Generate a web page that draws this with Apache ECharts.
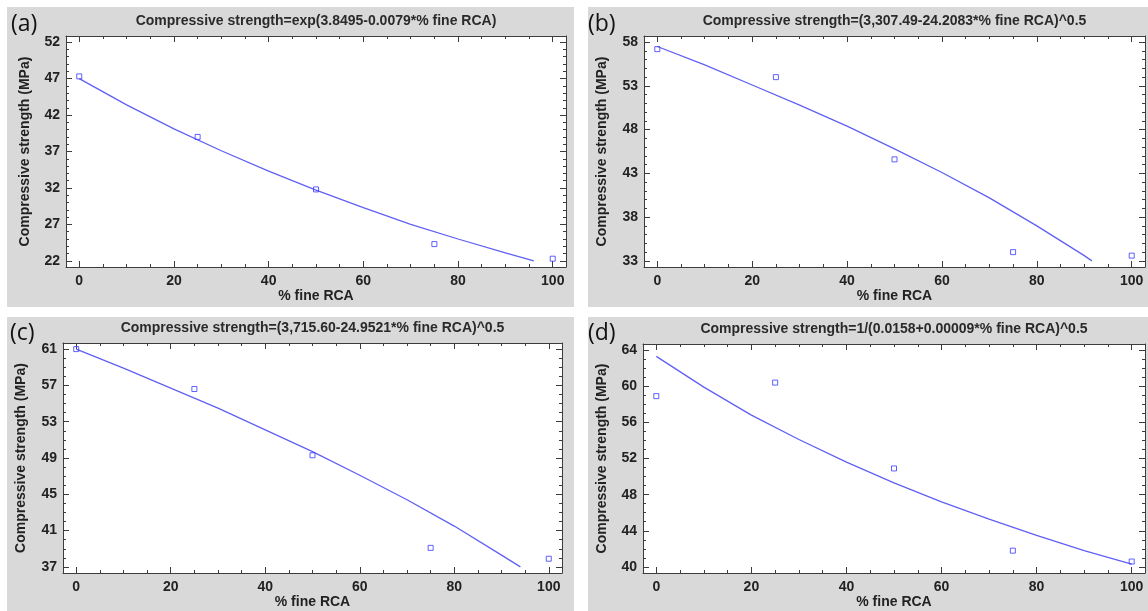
<!DOCTYPE html>
<html>
<head>
<meta charset="utf-8">
<title>Compressive strength vs % fine RCA</title>
<script src="https://cdn.jsdelivr.net/npm/echarts@6/dist/echarts.min.js"></script>
<style>
  html, body { margin: 0; padding: 0; background: #fff; }
  #main { width: 1148px; height: 611px; }
</style>
</head>
<body>
<div id="main"></div>
<script>
// tick labels
var xTicks = [0, 20, 40, 60, 80, 100];
var yTicksA = [22, 27, 32, 37, 42, 47, 52];
var yTicksB = [33, 38, 43, 48, 53, 58];
var yTicksC = [37, 41, 45, 49, 53, 57, 61];
var yTicksD = [40, 44, 48, 52, 56, 60, 64];

// measured points (% fine RCA -> MPa)
var pointX = [0, 25, 50, 75, 100];
var pointA = [47.3, 39.0, 31.8, 24.3, 22.3];
var pointB = [57.2, 54.0, 44.6, 34.0, 33.6];
var pointC = [61.0, 56.6, 49.3, 39.1, 37.9];
var pointD = [58.9, 60.4, 50.9, 41.8, 40.6];

// fitted curves
var fitXA = [0, 10, 20, 30, 40, 50, 60, 70, 80, 90, 96];
var fitYA = [47.0, 43.4, 40.1, 37.1, 34.3, 31.7, 29.3, 27.0, 25.0, 23.1, 22.0];
var fitXB = [0, 10, 20, 30, 40, 50, 60, 70, 80, 90, 91.6];
var fitYB = [57.5, 55.4, 53.1, 50.8, 48.4, 45.8, 43.1, 40.2, 37.0, 33.6, 33.0];
var fitXC = [0, 10, 20, 30, 40, 50, 60, 70, 80, 90, 94];
var fitYC = [61.0, 58.9, 56.7, 54.5, 52.1, 49.7, 47.1, 44.4, 41.5, 38.3, 37.0];
var fitXD = [0, 10, 20, 30, 40, 50, 60, 70, 80, 90, 100];
var fitYD = [63.3, 59.9, 56.8, 54.1, 51.6, 49.3, 47.2, 45.3, 43.5, 41.8, 40.3];

var titles = [
  'Compressive strength=exp(3.8495-0.0079*% fine RCA)',
  'Compressive strength=(3,307.49-24.2083*% fine RCA)^0.5',
  'Compressive strength=(3,715.60-24.9521*% fine RCA)^0.5',
  'Compressive strength=1/(0.0158+0.00009*% fine RCA)^0.5'
];
var tags = ['(a)', '(b)', '(c)', '(d)'];
var xName = '% fine RCA';
var yName = 'Compressive strength (MPa)';

var FONT = '"Liberation Sans", Arial, sans-serif';
var FRAME = '#3c3c3c';
var PANEL_BG = '#d9d9d9';
var PAD = 0.028;

// layout of the 4 panels
var panels = [
  { yTicks: yTicksA, pts: pointA, fitX: fitXA, fitY: fitYA,
    bg: [7, 7, 567, 300], grid: { left: 66, top: 36, width: 500, height: 231 }, tag: [11, 24], titleTop: 14, yGap: 34, xGap: 21 },
  { yTicks: yTicksB, pts: pointB, fitX: fitXB, fitY: fitYB,
    bg: [588, 7, 560, 300], grid: { left: 644, top: 36, width: 501, height: 231 }, tag: [588, 24], titleTop: 14, yGap: 35, xGap: 21 },
  { yTicks: yTicksC, pts: pointC, fitX: fitXC, fitY: fitYC,
    bg: [7, 317, 567, 294], grid: { left: 63, top: 343, width: 499, height: 230 }, tag: [10, 333], titleTop: 321, yGap: 35, xGap: 20 },
  { yTicks: yTicksD, pts: pointD, fitX: fitXD, fitY: fitYD,
    bg: [588, 317, 560, 294], grid: { left: 643, top: 344, width: 502, height: 229 }, tag: [588, 333], titleTop: 322, yGap: 34, xGap: 20 }
];

function range(lo, hi) {
  var p = (hi - lo) * PAD;
  return [lo - p, hi + p];
}

function steps(lo, hi, st) {
  var out = [];
  for (var v = lo; v <= hi + 1e-9; v += st) out.push(v);
  return out;
}

function axis(dim, gi, pos, r, ticks, len, lineShow, labels, name, gap) {
  var a = {
    type: 'value',
    gridIndex: gi,
    position: pos,
    min: r[0],
    max: r[1],
    splitLine: { show: false },
    axisLine: { show: lineShow, onZero: false, lineStyle: { color: FRAME, width: 1 } },
    axisTick: { show: true, inside: true, length: len, customValues: ticks, lineStyle: { color: FRAME, width: 1 } },
    axisLabel: { show: false }
  };
  if (labels) {
    a.axisLabel = {
      show: true, customValues: labels, margin: dim === 'x' ? 7 : 6,
      color: '#222', fontFamily: FONT, fontWeight: 'bold', fontSize: 14
    };
    a.name = name;
    a.nameLocation = 'middle';
    a.nameGap = gap;
    a.nameTextStyle = { color: '#222', fontFamily: FONT, fontWeight: 'bold', fontSize: 14 };
  }
  return a;
}

function getOption() {
  var grids = [], xAxes = [], yAxes = [], series = [], titleList = [], graphics = [];
  panels.forEach(function (p, i) {
    var yt = p.yTicks;
    var xr = range(xTicks[0], xTicks[xTicks.length - 1]);
    var yr = range(yt[0], yt[yt.length - 1]);
    var xMinor = steps(0, 100, 5);
    var yMinor = steps(yt[0], yt[yt.length - 1], 1);

    grids.push({
      left: p.grid.left, top: p.grid.top, width: p.grid.width, height: p.grid.height,
      show: true, backgroundColor: '#ffffff', borderWidth: 0
    });

    // bottom/top frame with minor + major ticks
    xAxes.push(axis('x', i, 'bottom', xr, xMinor, 3, true, xTicks, xName, p.xGap));
    xAxes.push(axis('x', i, 'bottom', xr, xTicks, 6, false));
    xAxes.push(axis('x', i, 'top', xr, xMinor, 3, true));
    xAxes.push(axis('x', i, 'top', xr, xTicks, 6, false));
    // left/right frame
    yAxes.push(axis('y', i, 'left', yr, yMinor, 3, true, yt, yName, p.yGap));
    yAxes.push(axis('y', i, 'left', yr, yt, 6, false));
    yAxes.push(axis('y', i, 'right', yr, yMinor, 3, true));
    yAxes.push(axis('y', i, 'right', yr, yt, 6, false));

    series.push({
      type: 'line',
      xAxisIndex: i * 4, yAxisIndex: i * 4,
      data: p.fitX.map(function (x, k) { return [x, p.fitY[k]]; }),
      showSymbol: false,
      smooth: false,
      lineStyle: { color: '#6060f4', width: 1.3 },
      z: 3
    });
    series.push({
      type: 'scatter',
      xAxisIndex: i * 4, yAxisIndex: i * 4,
      data: pointX.map(function (x, k) { return [x, p.pts[k]]; }),
      symbol: 'rect',
      symbolSize: 5,
      itemStyle: { color: 'rgba(255,255,255,0)', borderColor: '#3a3aff', borderWidth: 1 },
      z: 4
    });

    titleList.push({
      text: titles[i],
      left: p.grid.left + p.grid.width / 2,
      top: p.titleTop,
      textAlign: 'center',
      padding: 0,
      textStyle: { color: '#2a2a2a', fontFamily: FONT, fontWeight: 'bold', fontSize: 14 }
    });

    graphics.push({
      type: 'rect', z: -10, silent: true,
      shape: { x: p.bg[0], y: p.bg[1], width: p.bg[2], height: p.bg[3] },
      style: { fill: PANEL_BG }
    });
    graphics.push({
      type: 'text', z: 10, silent: true,
      x: p.tag[0], y: p.tag[1],
      style: {
        text: tags[i], fill: '#111', font: '23px "Open Sans", "DejaVu Sans", sans-serif',
        textAlign: 'left', textVerticalAlign: 'middle'
      }
    });
  });

  return {
    animation: false,
    backgroundColor: '#ffffff',
    title: titleList,
    grid: grids,
    xAxis: xAxes,
    yAxis: yAxes,
    series: series,
    graphic: graphics
  };
}

var chart = echarts.init(document.getElementById('main'), null, { renderer: 'canvas' });
chart.setOption(getOption());
</script>
</body>
</html>
